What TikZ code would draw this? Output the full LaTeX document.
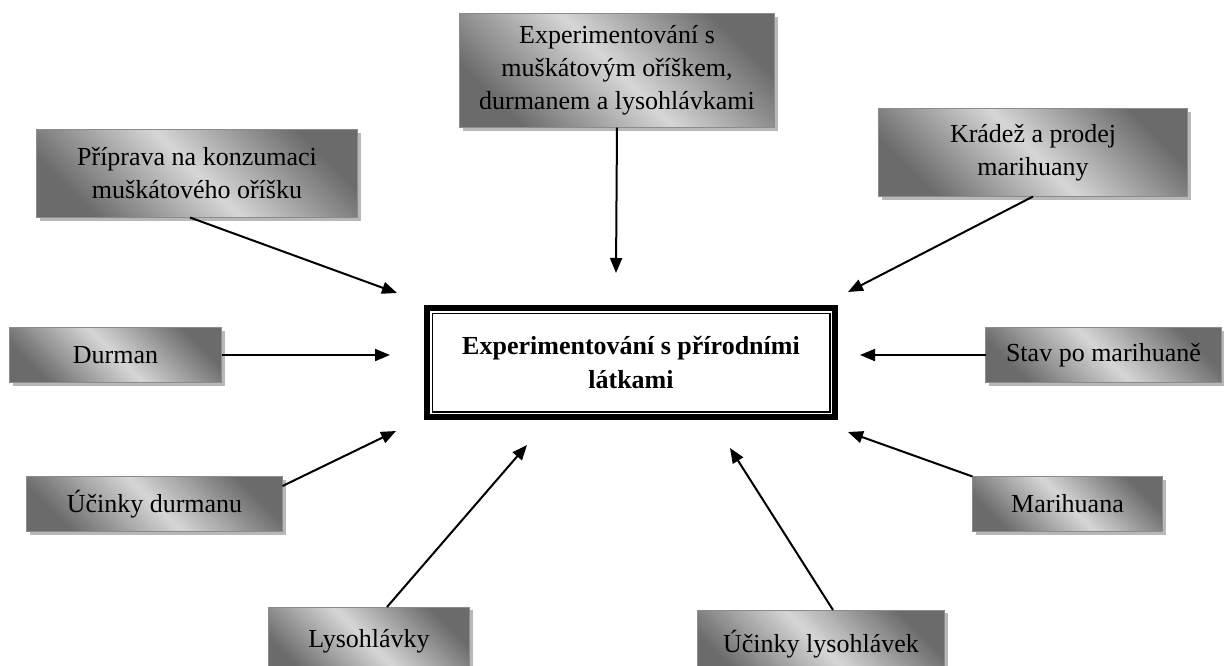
\documentclass[tikz,border=0pt]{standalone}
\usepackage{fontspec}
\setmainfont{Liberation Serif}
\usetikzlibrary{arrows.meta,shadows}

\begin{document}
\begin{tikzpicture}[x=1pt,y=-1pt,
    graybox/.style={draw=black!45, line width=1pt, align=center,
        top color=black!58, bottom color=black!58, middle color=black!16,
        shading angle=-45, inner sep=0pt, outer sep=0pt,
        drop shadow={shadow xshift=3pt, shadow yshift=-3pt, fill=black!28, opacity=1},
        font=\fontsize{26}{33}\selectfont},
    mainbox/.style={draw, line width=5.5pt, fill=white, align=center,
        minimum width=408pt, minimum height=109pt,
        font=\fontsize{26}{34}\selectfont\bfseries},
    arr/.style={-{Triangle[length=15pt,width=12pt]}, line width=2pt}]
    \useasboundingbox (0,0) rectangle (1224,665);
    \clip (0,0) rectangle (1224,665);

    % centre
    \node[mainbox] (cen) at (631,362.5) {Experimentování s přírodními\\ látkami};
    \draw[line width=1.5pt] ([shift={(8,8)}]cen.north west) rectangle ([shift={(-8,-8)}]cen.south east);

    % boxes round the centre
    \node[graybox, minimum width=315pt, minimum height=114pt] (exp) at (617,70.5)
        {Experimentování s\\ muškátovým oříškem,\\ durmanem a lysohlávkami};
    \node[graybox, minimum width=321pt, minimum height=88pt] (prip) at (197,173.5)
        {Příprava na konzumaci\\ muškátového oříšku};
    \node[graybox, minimum width=309pt, minimum height=88pt] (krad) at (1033,152.5)
        {Krádež a prodej\\ marihuany};
    \node[graybox, minimum width=212pt, minimum height=55pt] (durman) at (115.5,355) {Durman};
    \node[graybox, minimum width=236pt, minimum height=55pt] (stav) at (1103.5,355) {Stav po marihuaně};
    \node[graybox, minimum width=256pt, minimum height=55pt] (ucd) at (154.5,504) {Účinky durmanu};
    \node[graybox, minimum width=190pt, minimum height=55pt] (mar) at (1067.5,504) {Marihuana};
    \node[graybox, minimum width=201pt, minimum height=72pt] (lys) at (369,643)
        {\raisebox{9pt}{Lysohlávky}};
    \node[graybox, minimum width=247pt, minimum height=72pt] (ucl) at (821,646)
        {\raisebox{9pt}{Účinky lysohlávek}};

    % arrow tips
    \coordinate (t-exp) at (616,273);
    \coordinate (t-prip) at (397,293);
    \coordinate (t-krad) at (848,292);
    \coordinate (t-durman) at (390,355);
    \coordinate (t-stav) at (860,355);
    \coordinate (t-ucd) at (396,431);
    \coordinate (t-mar) at (848,432);
    \coordinate (t-lys) at (527,445);
    \coordinate (t-ucl) at (730,448);

    \draw[arr] (exp.south) -- (t-exp);
    \draw[arr] ([xshift=-7pt]prip.south) -- (t-prip);
    \draw[arr] (krad.south) -- (t-krad);
    \draw[arr] (durman.east) -- (t-durman);
    \draw[arr] (stav.west) -- (t-stav);
    \draw[arr] (ucd.8) -- (t-ucd);
    \draw[arr] (mar.north west) -- (t-mar);
    \draw[arr] ([xshift=18pt]lys.north) -- (t-lys);
    \draw[arr] ([xshift=12pt]ucl.north) -- (t-ucl);
\end{tikzpicture}
\end{document}
